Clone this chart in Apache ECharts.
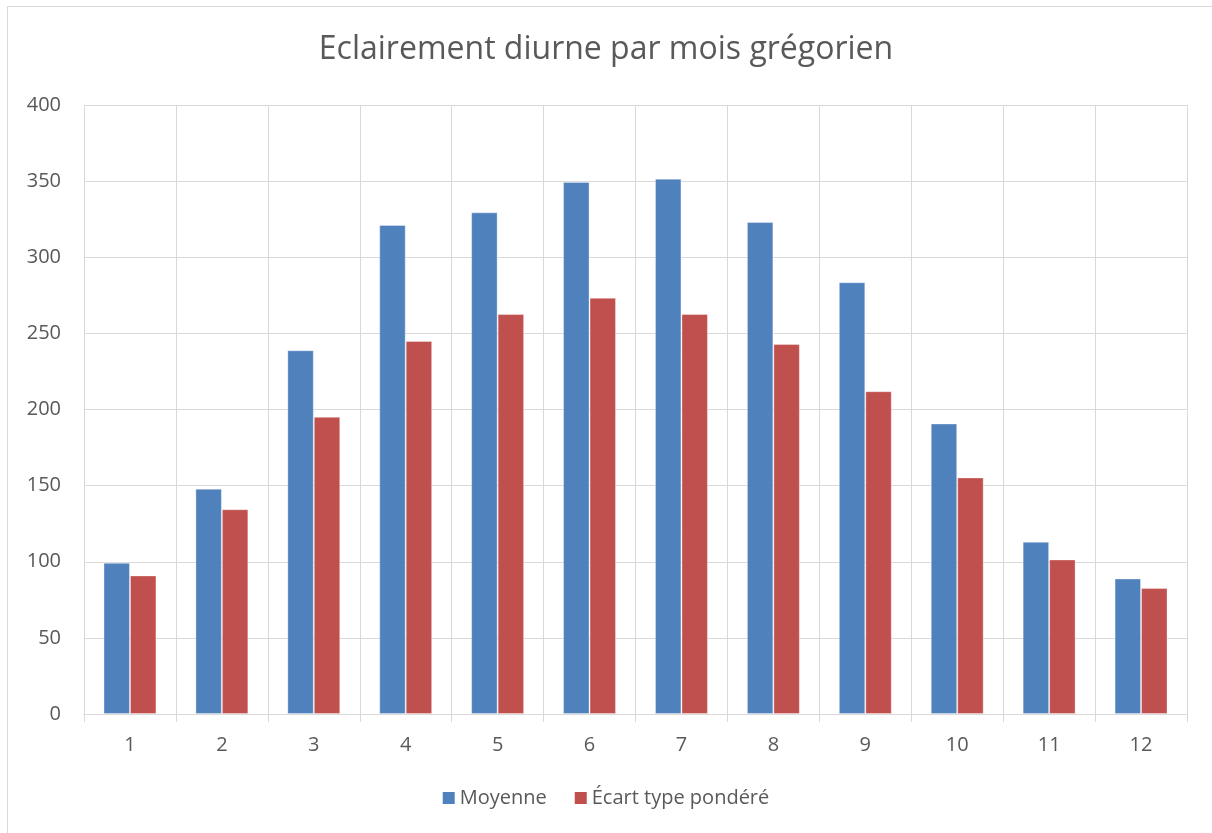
<!DOCTYPE html>
<html>
<head>
<meta charset="utf-8">
<script src="https://cdn.jsdelivr.net/npm/echarts@6/dist/echarts.min.js"></script>
<style>
html,body{margin:0;padding:0;background:#fff;}
#chart{width:1212px;height:833px;}
</style>
</head>
<body>
<div id="chart"></div>
<script>
const categories = ['1','2','3','4','5','6','7','8','9','10','11','12'];
const moyenne = [99.3, 148, 238.9, 321.2, 329.5, 349.5, 351.6, 323.1, 283.6, 190.8, 113.1, 89];
const ecartType = [91, 134.5, 195.2, 245, 262.7, 273.4, 262.7, 243, 212, 155.4, 101.5, 82.7];
const seriesNames = ['Moyenne', 'Écart type pondéré'];
const titleText = 'Eclairement diurne par mois grégorien';

const FONT = "'Open Sans', 'Liberation Sans', sans-serif";
const TXT = '#595959';
const GRID = '#d9d9d9';

const chart = echarts.init(document.getElementById('chart'), null, {renderer: 'canvas'});
chart.setOption({
  animation: false,
  backgroundColor: '#fff',
  graphic: [{
    type: 'rect',
    shape: {x: 7.5, y: 6.5, width: 1220, height: 840},
    style: {fill: 'none', stroke: '#d9d9d9', lineWidth: 1},
    silent: true
  }],
  title: {
    text: titleText,
    left: 'center',
    top: 29,
    textStyle: {fontFamily: FONT, fontSize: 32, fontWeight: 'normal', color: TXT}
  },
  legend: {
    data: seriesNames,
    bottom: 20,
    left: 'center',
    icon: 'rect',
    itemWidth: 12,
    itemHeight: 12,
    itemGap: 28,
    itemStyle: {borderWidth: 0},
    textStyle: {fontFamily: FONT, fontSize: 20, color: TXT}
  },
  grid: {left: 84, right: 25, top: 105, bottom: 119, containLabel: false},
  xAxis: {
    type: 'category',
    data: categories,
    boundaryGap: true,
    axisLine: {lineStyle: {color: GRID, width: 1}},
    axisTick: {show: true, length: 8, lineStyle: {color: GRID}},
    axisLabel: {fontFamily: FONT, fontSize: 20, color: TXT, margin: 21},
    splitLine: {show: true, lineStyle: {color: GRID, width: 1}}
  },
  yAxis: {
    type: 'value',
    min: 0,
    max: 400,
    interval: 50,
    axisLine: {show: false},
    axisTick: {show: false},
    axisLabel: {fontFamily: FONT, fontSize: 20, color: TXT, margin: 23},
    splitLine: {show: true, lineStyle: {color: GRID, width: 1}}
  },
  series: [
    {
      name: seriesNames[0], type: 'bar', data: moyenne,
      barGap: '0%', barCategoryGap: '42.4%',
      itemStyle: {color: '#4F81BD', borderColor: 'rgba(255,255,255,0.35)', borderWidth: 1}
    },
    {
      name: seriesNames[1], type: 'bar', data: ecartType,
      barGap: '0%', barCategoryGap: '42.4%',
      itemStyle: {color: '#C0504D', borderColor: 'rgba(255,255,255,0.35)', borderWidth: 1}
    }
  ]
});
</script>
</body>
</html>
